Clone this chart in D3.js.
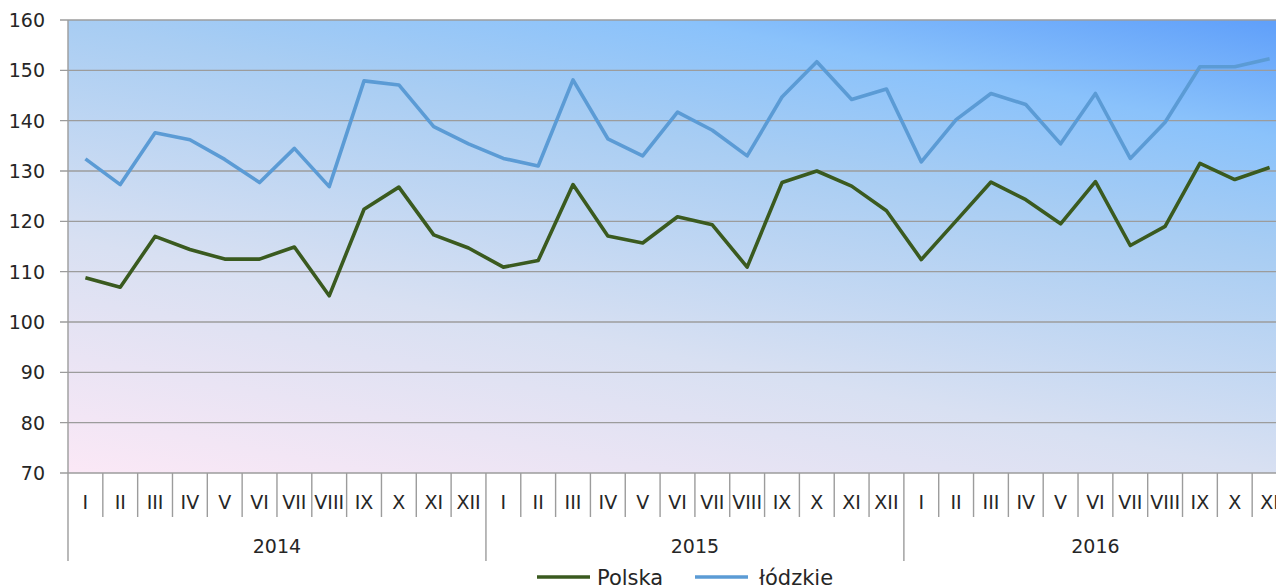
<!DOCTYPE html>
<html>
<head>
<meta charset="utf-8">
<script src="https://cdn.jsdelivr.net/npm/d3@7"></script>
<style>
  html, body { margin: 0; padding: 0; background: #fff; overflow: hidden; }
  svg { display: block; font-family: "DejaVu Sans", sans-serif; }
</style>
</head>
<body>
<svg id="chart" width="1276" height="586"></svg>
<script>
'use strict';

// Monthly values, I 2014 .. XI 2016
const months = ['I','II','III','IV','V','VI','VII','VIII','IX','X','XI','XII'];
const years = ['2014', '2015', '2016'];
const polska = [
  108.8, 106.9, 117.0, 114.4, 112.5, 112.5, 114.9, 105.2, 122.4, 126.8, 117.3, 114.7,
  110.9, 112.2, 127.3, 117.1, 115.7, 120.9, 119.3, 110.9, 127.7, 130.0, 127.0, 122.1,
  112.4, 120.1, 127.8, 124.3, 119.5, 127.9, 115.2, 119.0, 131.5, 128.3, 130.7
];
const lodzkie = [
  132.4, 127.3, 137.6, 136.2, 132.3, 127.7, 134.5, 126.9, 147.9, 147.1, 138.8, 135.4,
  132.5, 131.0, 148.1, 136.4, 133.0, 141.7, 138.1, 133.0, 144.7, 151.7, 144.2, 146.3,
  131.8, 140.2, 145.4, 143.2, 135.4, 145.4, 132.5, 139.7, 150.7, 150.7, 152.3
];
const yTicks = [70, 80, 90, 100, 110, 120, 130, 140, 150, 160];
const seriesNames = ['Polska', 'łódzkie'];
const seriesColors = ['#3a5a1f', '#5b9bd5'];

const plotLeft = 68, plotRight = 1287, plotTop = 20, plotBottom = 473;
const svg = d3.select('#chart');

// one category per month actually present
const cats = polska.map((d, i) => i);
const x = d3.scaleBand().domain(cats).range([plotLeft, plotRight]);
const y = d3.scaleLinear().domain([70, 160]).range([plotBottom, plotTop]);
const step = x.step();

// background gradient, pink bottom-left to blue top-right
const defs = svg.append('defs');
const grad = defs.append('linearGradient')
    .attr('id', 'bg')
    .attr('gradientUnits', 'userSpaceOnUse')
    .attr('x1', 68).attr('y1', 473)
    .attr('x2', 204).attr('y2', -231);
[[0, '#fbe8f6'], [0.32, '#d8e0f2'], [0.62, '#a8cdf3'], [0.78, '#8ac2fb'], [0.94, '#5f9ffa']]
  .forEach(s => grad.append('stop').attr('offset', s[0]).attr('stop-color', s[1]));

svg.append('rect')
    .attr('x', plotLeft).attr('y', plotTop)
    .attr('width', plotRight - plotLeft).attr('height', plotBottom - plotTop)
    .attr('fill', 'url(#bg)');

// grid lines
svg.append('g')
  .selectAll('line')
  .data(yTicks)
  .enter().append('line')
    .attr('x1', plotLeft - 8).attr('x2', plotRight)
    .attr('y1', d => y(d)).attr('y2', d => y(d))
    .attr('stroke', '#9c9c9c')
    .attr('stroke-width', 1.4);

// y axis line + labels
svg.append('line')
    .attr('x1', plotLeft).attr('x2', plotLeft)
    .attr('y1', plotTop).attr('y2', 561)
    .attr('stroke', '#9c9c9c').attr('stroke-width', 1.4);

svg.append('g')
  .selectAll('text')
  .data(yTicks)
  .enter().append('text')
    .attr('x', 45)
    .attr('y', d => y(d))
    .attr('dy', '0.36em')
    .attr('text-anchor', 'end')
    .attr('font-size', 19)
    .attr('fill', '#262626')
    .text(d => d);

// month separators and labels
svg.append('g')
  .selectAll('line')
  .data(cats.slice(1).concat([cats.length]))
  .enter().append('line')
    .attr('x1', d => plotLeft + d * step).attr('x2', d => plotLeft + d * step)
    .attr('y1', plotBottom)
    .attr('y2', d => d % 12 === 0 ? 561 : 517)
    .attr('stroke', '#9c9c9c').attr('stroke-width', 1.4);

svg.append('g')
  .selectAll('text')
  .data(cats)
  .enter().append('text')
    .attr('x', d => x(d) + step / 2)
    .attr('y', 502)
    .attr('dy', '0.36em')
    .attr('text-anchor', 'middle')
    .attr('font-size', 19)
    .attr('fill', '#262626')
    .text(d => months[d % 12]);

svg.append('g')
  .selectAll('text')
  .data(years)
  .enter().append('text')
    .attr('x', (d, i) => {
      const first = i * 12;
      const last = Math.min(first + 11, cats.length - 1);
      return (x(first) + x(last) + step) / 2;
    })
    .attr('y', 546)
    .attr('dy', '0.36em')
    .attr('text-anchor', 'middle')
    .attr('font-size', 19)
    .attr('fill', '#262626')
    .text(d => d);

// series lines
const line = d3.line()
    .x((d, i) => x(i) + step / 2)
    .y(d => y(d));

[polska, lodzkie].forEach((s, k) => {
  svg.append('path')
      .datum(s)
      .attr('d', line)
      .attr('fill', 'none')
      .attr('stroke', seriesColors[k])
      .attr('stroke-width', 3.6)
      .attr('stroke-linejoin', 'round');
});

// legend
const legendX = [537, 695];
const legend = svg.append('g')
  .selectAll('g')
  .data(seriesNames)
  .enter().append('g')
    .attr('transform', (d, i) => 'translate(' + legendX[i] + ',577)');

legend.append('line')
    .attr('x1', 0).attr('x2', 53)
    .attr('stroke', (d, i) => seriesColors[i])
    .attr('stroke-width', 3.6);

legend.append('text')
    .attr('x', (d, i) => i === 0 ? 60 : 64)
    .attr('dy', '0.36em')
    .attr('font-size', 21)
    .attr('fill', '#262626')
    .text(d => d);
</script>
</body>
</html>
